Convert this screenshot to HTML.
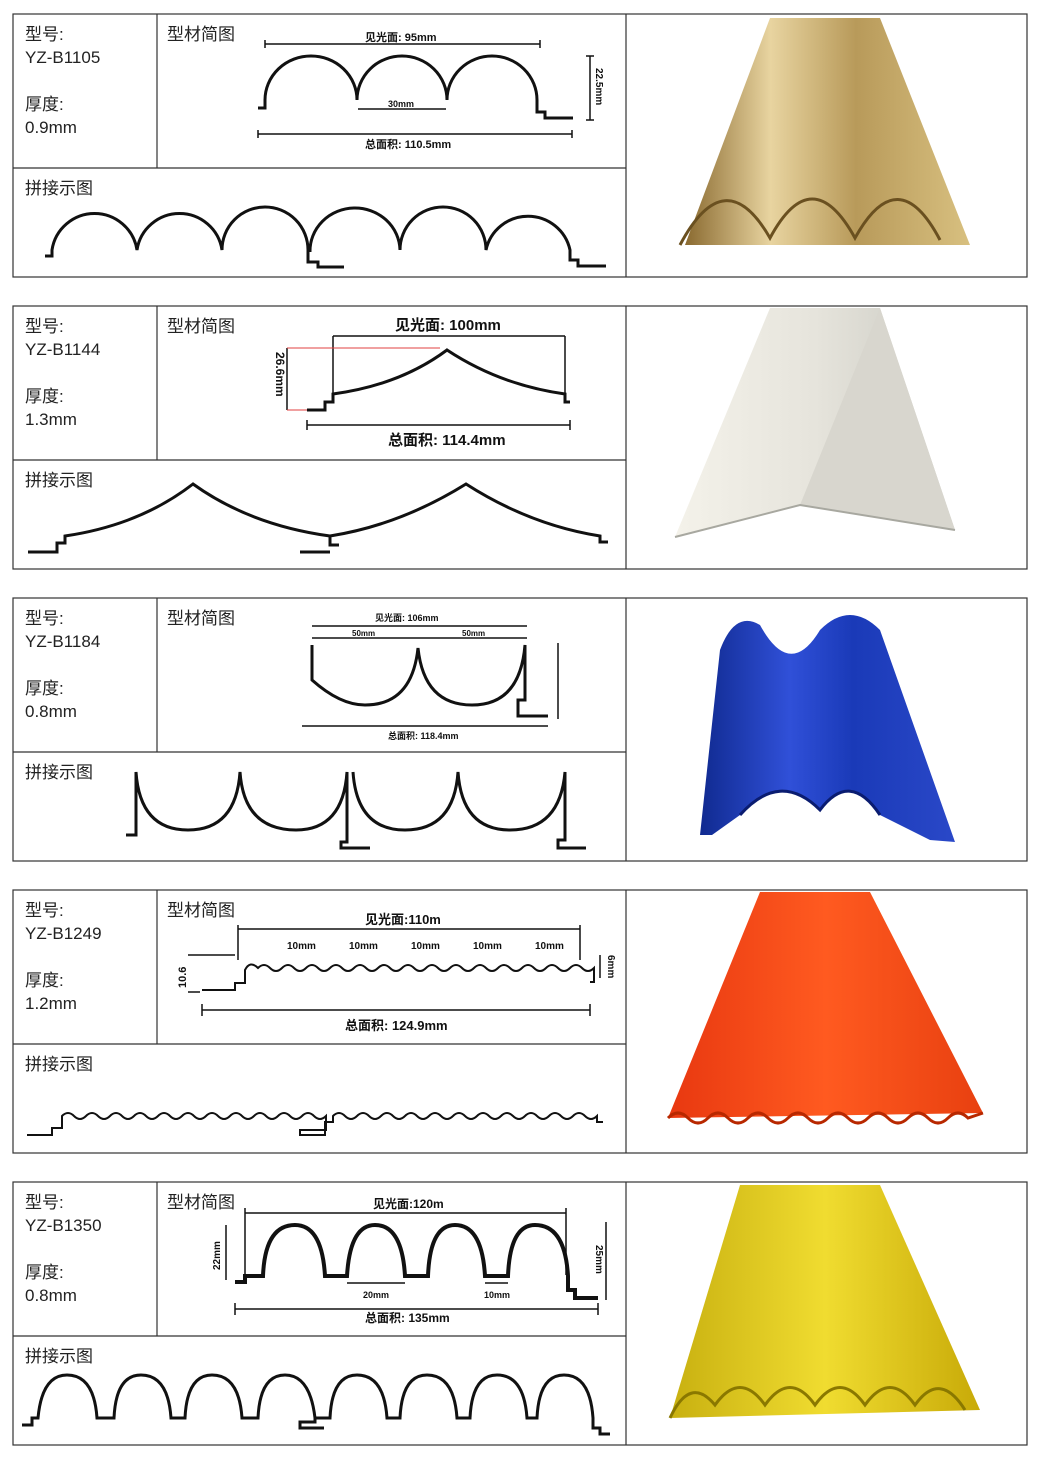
<!DOCTYPE html>
<html><head><meta charset="utf-8"><style>
html,body{margin:0;padding:0;background:#fff;}
svg{display:block;}
text{font-family:"Liberation Sans","Noto Sans CJK SC",sans-serif;}
.lb{font-size:17px;fill:#222;}
.d{font-size:11px;font-weight:bold;fill:#111;}
.p{fill:none;stroke:#111;stroke-width:3;}
.dm{fill:none;stroke:#111;stroke-width:1.5;}
.bx{fill:none;stroke:#333;stroke-width:1.2;}
</style></head><body>
<svg width="1040" height="1458" viewBox="0 0 1040 1458" xmlns="http://www.w3.org/2000/svg">
<defs>
<linearGradient id="g1" x1="0" x2="1"><stop offset="0" stop-color="#8a6a30"/><stop offset=".3" stop-color="#e8d4a0"/><stop offset=".6" stop-color="#b89a5a"/><stop offset="1" stop-color="#d8c080"/></linearGradient>
<linearGradient id="g2" x1="0" x2="1"><stop offset="0" stop-color="#f4f2ea"/><stop offset=".5" stop-color="#e6e4dc"/><stop offset="1" stop-color="#c8c8c0"/></linearGradient>
<linearGradient id="g3" x1="0" x2="1"><stop offset="0" stop-color="#102a90"/><stop offset=".35" stop-color="#3050d8"/><stop offset=".6" stop-color="#1a3ab8"/><stop offset="1" stop-color="#2a48c8"/></linearGradient>
<linearGradient id="g4" x1="0" x2="1"><stop offset="0" stop-color="#e83810"/><stop offset=".5" stop-color="#ff5a20"/><stop offset="1" stop-color="#e84010"/></linearGradient>
<linearGradient id="g5" x1="0" x2="1"><stop offset="0" stop-color="#c8b010"/><stop offset=".5" stop-color="#f0dc30"/><stop offset="1" stop-color="#c8aa08"/></linearGradient>
</defs>

<g class="bx">
<rect x="13" y="14" width="1014" height="263"/><line x1="626" y1="14" x2="626" y2="277"/><line x1="13" y1="168" x2="626" y2="168"/><line x1="157" y1="14" x2="157" y2="168"/>
<rect x="13" y="306" width="1014" height="263"/><line x1="626" y1="306" x2="626" y2="569"/><line x1="13" y1="460" x2="626" y2="460"/><line x1="157" y1="306" x2="157" y2="460"/>
<rect x="13" y="598" width="1014" height="263"/><line x1="626" y1="598" x2="626" y2="861"/><line x1="13" y1="752" x2="626" y2="752"/><line x1="157" y1="598" x2="157" y2="752"/>
<rect x="13" y="890" width="1014" height="263"/><line x1="626" y1="890" x2="626" y2="1153"/><line x1="13" y1="1044" x2="626" y2="1044"/><line x1="157" y1="890" x2="157" y2="1044"/>
<rect x="13" y="1182" width="1014" height="263"/><line x1="626" y1="1182" x2="626" y2="1445"/><line x1="13" y1="1336" x2="626" y2="1336"/><line x1="157" y1="1182" x2="157" y2="1336"/>
</g>

<g class="lb">
<text x="25" y="40">型号:</text><text x="25" y="63">YZ-B1105</text><text x="25" y="110">厚度:</text><text x="25" y="133">0.9mm</text><text x="167" y="40">型材简图</text><text x="25" y="194">拼接示图</text>
<text x="25" y="332">型号:</text><text x="25" y="355">YZ-B1144</text><text x="25" y="402">厚度:</text><text x="25" y="425">1.3mm</text><text x="167" y="332">型材简图</text><text x="25" y="486">拼接示图</text>
<text x="25" y="624">型号:</text><text x="25" y="647">YZ-B1184</text><text x="25" y="694">厚度:</text><text x="25" y="717">0.8mm</text><text x="167" y="624">型材简图</text><text x="25" y="778">拼接示图</text>
<text x="25" y="916">型号:</text><text x="25" y="939">YZ-B1249</text><text x="25" y="986">厚度:</text><text x="25" y="1009">1.2mm</text><text x="167" y="916">型材简图</text><text x="25" y="1070">拼接示图</text>
<text x="25" y="1208">型号:</text><text x="25" y="1231">YZ-B1350</text><text x="25" y="1278">厚度:</text><text x="25" y="1301">0.8mm</text><text x="167" y="1208">型材简图</text><text x="25" y="1362">拼接示图</text>
</g>

<path class="p" d="M258 108 H265 V100 A46 44 0 0 1 357 100 A45 44 0 0 1 447 100 A45 44 0 0 1 537 100 V112 H545 V118 H573"/>
<path class="dm" d="M265 44 H540 M265 40 V48 M540 40 V48 M358 109 H446 M258 134 H572 M258 130 V138 M572 130 V138 M590 56 V120 M586 56 H594 M586 120 H594"/>
<text class="d" x="365" y="41">见光面: 95mm</text><text class="d" x="388" y="107" style="font-size:9px">30mm</text><text class="d" x="365" y="148">总面积: 110.5mm</text>
<text class="d" transform="translate(596 68) rotate(90)" style="font-size:10px">22.5mm</text>
<path class="p" d="M45 256 H52 V250 A43 43 0 0 1 137 250 A43 43 0 0 1 222 250 A43 43 0 0 1 308 250 V262 H318 V267 H344 M310 252 A45 43 0 0 1 400 250 A43 43 0 0 1 486 250 A43 43 0 0 1 570 250 V260 H578 V266 H606"/>
<path class="p" d="M307 410 H325 V402 H333 V394 Q400 385 447 350 Q500 385 565 394 V402 H570"/>
<path class="dm" d="M333 336 H565 M333 336 V394 M565 336 V394 M307 425 H570 M307 420 V430 M570 420 V430 M287 348 V410"/>
<path d="M287 348 H440 M287 410 H307" stroke="#e04040" stroke-width="1" fill="none"/>
<text class="d" x="395" y="330" style="font-size:15px">见光面: 100mm</text><text class="d" x="388" y="445" style="font-size:15px">总面积: 114.4mm</text>
<text class="d" transform="translate(276 352) rotate(90)" style="font-size:12px">26.6mm</text>
<path class="p" d="M28 552 H57 V543 H65 V536 Q140 525 193 484 Q250 525 330 536 V545 H339 M300 552 H330 M330 536 Q400 525 466 484 Q530 525 600 536 V542 H608"/>
<path class="p" d="M312 645 V680 Q340 705 365 705 Q412 705 418 648 Q424 705 472 705 Q520 705 525 645 V700 H518 V716 H548"/>
<path class="dm" d="M312 626 H527 M312 638 H418 M418 638 H527 M302 726 H548 M558 643 V719"/>
<text class="d" x="375" y="621" style="font-size:9px">见光面: 106mm</text><text class="d" x="352" y="636" style="font-size:8px">50mm</text><text class="d" x="462" y="636" style="font-size:8px">50mm</text><text class="d" x="388" y="739" style="font-size:9px">总面积: 118.4mm</text>
<path class="p" d="M126 835 H136 V772 Q140 830 188 830 Q236 830 240 772 Q244 830 296 830 Q343 830 347 772 V842 H341 V848 H370 M353 772 Q357 830 405 830 Q454 830 458 772 Q462 830 510 830 Q560 830 565 772 V840 H558 V848 H586"/>
<path class="p" style="stroke-width:2" d="M202 990 H235 V983 H245 V970 Q250 960 258 968 q6 -6 12 0 t12 0 t12 0 t12 0 t12 0 t12 0 t12 0 t12 0 t12 0 t12 0 t12 0 t12 0 t12 0 t12 0 t12 0 t12 0 t12 0 t12 0 t12 0 t12 0 t12 0 t12 0 t12 0 t12 0 t12 0 t12 0 t12 0 t12 0 V982 H590"/>
<path class="dm" d="M238 929 H580 M238 925 V960 M580 925 V960 M202 1010 H590 M202 1004 V1016 M590 1004 V1016 M188 955 H235 M188 992 H200 M600 955 V978"/>
<text class="d" x="365" y="924" style="font-size:13px">见光面:110m</text>
<text class="d" x="287" y="949" style="font-size:10px">10mm</text><text class="d" x="349" y="949" style="font-size:10px">10mm</text><text class="d" x="411" y="949" style="font-size:10px">10mm</text><text class="d" x="473" y="949" style="font-size:10px">10mm</text><text class="d" x="535" y="949" style="font-size:10px">10mm</text>
<text class="d" x="345" y="1030" style="font-size:13px">总面积: 124.9mm</text>
<text class="d" transform="translate(186 988) rotate(-90)" style="font-size:11px">10.6</text>
<text class="d" transform="translate(608 955) rotate(90)" style="font-size:10px">6mm</text>
<path class="p" style="stroke-width:2" d="M27 1135 H52 V1128 H62 V1116 q6 -6 12 0 t12 0 t12 0 t12 0 t12 0 t12 0 t12 0 t12 0 t12 0 t12 0 t12 0 t12 0 t12 0 t12 0 t12 0 t12 0 t12 0 t12 0 t12 0 t12 0 t12 0 t12 0 V1130 H300 V1135 H325 V1122 H333 V1116 q6 -6 12 0 t12 0 t12 0 t12 0 t12 0 t12 0 t12 0 t12 0 t12 0 t12 0 t12 0 t12 0 t12 0 t12 0 t12 0 t12 0 t12 0 t12 0 t12 0 t12 0 t12 0 t12 0 V1122 H603"/>
<path class="p" style="stroke-width:4" d="M235 1282 H245 V1276 H263 Q265 1225 295 1225 Q322 1225 325 1276 H347 Q350 1225 375 1225 Q402 1225 405 1276 H428 Q430 1225 455 1225 Q482 1225 485 1276 H508 Q510 1225 535 1225 Q565 1225 568 1276 V1290 H575 V1298 H598"/>
<path class="dm" d="M245 1213 H566 M245 1208 V1275 M566 1208 V1275 M347 1283 H405 M485 1283 H508 M235 1309 H598 M235 1303 V1315 M598 1303 V1315 M226 1225 V1280 M606 1222 V1300"/>
<text class="d" x="373" y="1208" style="font-size:12px">见光面:120m</text><text class="d" x="363" y="1298" style="font-size:9px">20mm</text><text class="d" x="484" y="1298" style="font-size:9px">10mm</text><text class="d" x="365" y="1322" style="font-size:12px">总面积: 135mm</text>
<text class="d" transform="translate(220 1270) rotate(-90)" style="font-size:10px">22mm</text><text class="d" transform="translate(596 1245) rotate(90)" style="font-size:10px">25mm</text>
<path class="p" style="stroke-width:3" d="M22 1425 H32 V1418 H38 Q42 1375 67 1375 Q94 1375 97 1418 H114 Q116 1375 141 1375 Q168 1375 171 1418 H185 Q187 1375 212 1375 Q239 1375 242 1418 H258 Q260 1375 285 1375 Q310 1375 315 1418 V1422 H300 V1428 H324 M316 1418 H330 Q332 1375 357 1375 Q384 1375 387 1418 H400 Q402 1375 427 1375 Q454 1375 457 1418 H470 Q472 1375 497 1375 Q524 1375 527 1418 H537 Q539 1375 564 1375 Q590 1375 593 1418 V1428 H600 V1434 H610"/>

<path d="M685 245 L770 18 L880 18 L970 245 Z" fill="url(#g1)"/>
<path d="M680 245 Q725 160 770 238 Q812 160 855 238 Q898 160 940 240" fill="none" stroke="#6a5020" stroke-width="3"/>

<path d="M675 537 L770 308 L880 308 L955 530 L800 505 Z" fill="url(#g2)"/>
<path d="M800 505 L955 530 L880 308 Z" fill="#d8d6ce"/>
<path d="M675 537 L800 505 L955 530" fill="none" stroke="#a8a8a0" stroke-width="2"/>

<path d="M700 835 L720 650 Q735 610 760 625 Q790 680 820 630 Q850 600 880 630 L955 842 L930 840 L880 815 Q850 770 820 810 Q780 770 740 815 L712 835 Z" fill="url(#g3)"/>
<path d="M740 815 Q780 770 820 810 Q850 770 880 815" fill="none" stroke="#0a1c70" stroke-width="3"/>

<path d="M668 1118 L760 892 L870 892 L983 1113 Z" fill="url(#g4)"/>
<path d="M668 1118 q10 -10 20 0 t20 0 t20 0 t20 0 t20 0 t20 0 t20 0 t20 0 t20 0 t20 0 t20 0 t20 0 t20 0 t20 0 t20 0 L983 1113" fill="none" stroke="#b82800" stroke-width="3"/>

<path d="M670 1418 L740 1185 L880 1185 L980 1410 Z" fill="url(#g5)"/>
<path d="M670 1418 Q690 1375 715 1405 Q740 1370 765 1405 Q790 1370 815 1405 Q840 1370 865 1405 Q890 1370 915 1405 Q940 1370 965 1410" fill="none" stroke="#8a7800" stroke-width="3"/>
</svg>
</body></html>
